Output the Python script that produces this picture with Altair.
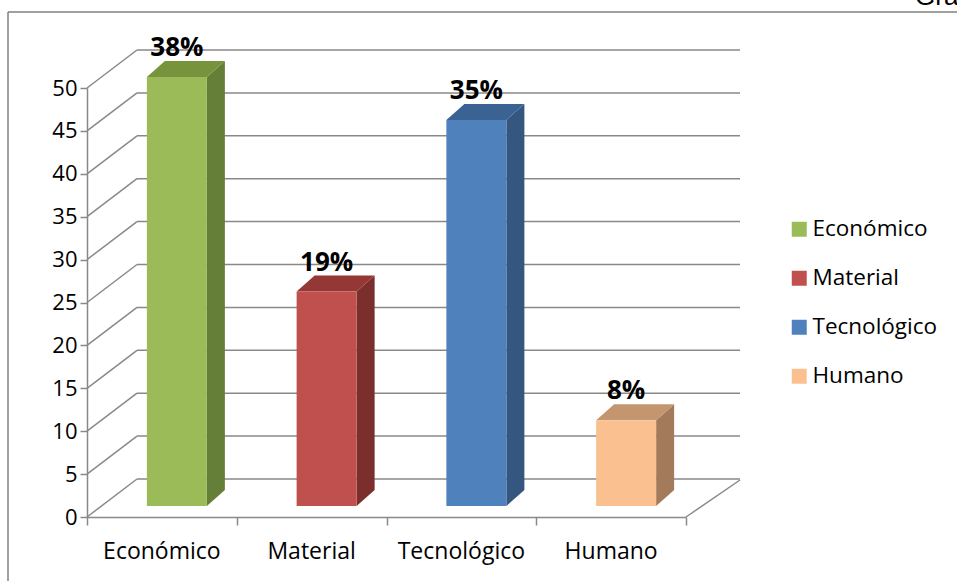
import altair as alt
import pandas as pd

# ---- data ----
categories = ["Económico", "Material", "Tecnológico", "Humano"]
values = [50, 25, 45, 10]
pct_labels = ["38%", "19%", "35%", "8%"]
y_ticks = [0, 5, 10, 15, 20, 25, 30, 35, 40, 45, 50]

# ---- styles ----
front_colors = ["#9BBB59", "#C0504D", "#4F81BD", "#FAC090"]
top_colors = ["#77933C", "#953735", "#3A6394", "#C3966F"]
side_colors = ["#667F38", "#7B2F2D", "#34567F", "#A47B5A"]
GRID = "#898989"
FONT = "Open Sans"

W, H = 599, 429
PX_X = W / 4.0
PX_Y = H / 50.0
HALF = 30 / PX_X          # half bar width (x units)
DX = 18 / PX_X            # depth of bar (x units)
DY = 16 / PX_Y            # depth of bar (y units)
SHIFT_X, SHIFT_Y = 15, -11

XS = alt.Scale(domain=[0, 4], nice=False, zero=False)
YS = alt.Scale(domain=[0, 50], nice=False, zero=True)
XAX = alt.Axis(values=[0, 1, 2, 3, 4], labels=False, tickSize=8, title=None, grid=False,
               domainColor=GRID, tickColor=GRID, domainWidth=1.5, tickWidth=1.5)
YAX = alt.Axis(values=y_ticks, tickSize=7, labelPadding=3, title=None, grid=False,
               labelFont=FONT, labelFontSize=22, labelColor="#000000",
               domainColor=GRID, tickColor=GRID, domainWidth=1.5, tickWidth=1.5)

bars = pd.DataFrame({
    "cat": categories,
    "pos": [i + 0.5 for i in range(len(categories))],
    "value": values,
    "label": pct_labels,
})
bars["xl"] = bars["pos"] - HALF
bars["xr"] = bars["pos"] + HALF
bars["ytop"] = bars["value"] + DY

side_rows, top_rows = [], []
for i, c in enumerate(categories):
    v = values[i]
    xl = i + 0.5 - HALF
    xr = i + 0.5 + HALF
    side_rows += [
        {"cat": c, "x": xr, "hi": v, "lo": 0, "col": side_colors[i]},
        {"cat": c, "x": xr + DX, "hi": v + DY, "lo": DY, "col": side_colors[i]},
    ]
    top_rows += [
        {"cat": c, "x": xl, "hi": v, "lo": v, "col": top_colors[i]},
        {"cat": c, "x": xl + DX, "hi": v + DY, "lo": v, "col": top_colors[i]},
        {"cat": c, "x": xr, "hi": v + DY, "lo": v, "col": top_colors[i]},
        {"cat": c, "x": xr + DX, "hi": v + DY, "lo": v + DY, "col": top_colors[i]},
    ]
side_df = pd.DataFrame(side_rows)
top_df = pd.DataFrame(top_rows)
grid_df = pd.DataFrame({"v": y_ticks})

one = alt.Data(values=[{}])

# frame
frame_left = alt.Chart(one).mark_rule(color="#808080", strokeWidth=1.5).encode(
    x=alt.value(-79), y=alt.value(-76), y2=alt.value(H + 80))
frame_top = alt.Chart(one).mark_rule(color="#808080", strokeWidth=1.5).encode(
    x=alt.value(-79), x2=alt.value(W + 290), y=alt.value(-76))
corner_text = alt.Chart(one).mark_text(align="left", baseline="alphabetic",
                                       font="Liberation Sans", fontSize=26, color="#000000").encode(
    x=alt.value(828), y=alt.value(-83), text=alt.value("Gráfico"))

# back wall gridlines
back_grid = alt.Chart(grid_df).mark_rule(color=GRID, strokeWidth=1.5, xOffset=50, x2Offset=54,
                                         yOffset=-38, y2Offset=-38).encode(
    x=alt.XDatum(0, type="quantitative", scale=XS, axis=XAX),
    x2=alt.X2Datum(4),
    y=alt.Y("v:Q", scale=YS, axis=YAX),
    y2=alt.Y2("v:Q"),
)
# side wall diagonals
side_grid = alt.Chart(grid_df).mark_rule(color=GRID, strokeWidth=1.5, x2Offset=50, y2Offset=-38).encode(
    x=alt.XDatum(0, type="quantitative", scale=XS, axis=XAX),
    x2=alt.X2Datum(0),
    y=alt.Y("v:Q", scale=YS, axis=YAX),
    y2=alt.Y2("v:Q"),
)
# floor right edge
floor_edge = alt.Chart(one).mark_rule(color=GRID, strokeWidth=1.5, x2Offset=54, y2Offset=-37).encode(
    x=alt.XDatum(4, type="quantitative", scale=XS, axis=XAX),
    x2=alt.X2Datum(4),
    y=alt.YDatum(0, type="quantitative", scale=YS, axis=YAX),
    y2=alt.Y2Datum(0),
)

area_props = dict(orient="vertical", interpolate="linear", xOffset=SHIFT_X,
                  yOffset=SHIFT_Y, y2Offset=SHIFT_Y)
side_face = alt.Chart(side_df).mark_area(**area_props).encode(
    x=alt.X("x:Q", scale=XS, axis=XAX),
    y=alt.Y("hi:Q", scale=YS, axis=YAX),
    y2="lo:Q",
    detail="cat:N",
    fill=alt.Fill("col:N", scale=None),
)
top_face = alt.Chart(top_df).mark_area(**area_props).encode(
    x=alt.X("x:Q", scale=XS, axis=XAX),
    y=alt.Y("hi:Q", scale=YS, axis=YAX),
    y2="lo:Q",
    detail="cat:N",
    fill=alt.Fill("col:N", scale=None),
)
front_face = alt.Chart(bars).mark_bar(xOffset=SHIFT_X, x2Offset=SHIFT_X,
                                      yOffset=SHIFT_Y, y2Offset=SHIFT_Y).encode(
    x=alt.X("xl:Q", scale=XS, axis=XAX),
    x2="xr:Q",
    y=alt.Y("value:Q", scale=YS, axis=YAX),
    y2=alt.Y2Datum(0),
    color=alt.Color("cat:N", scale=alt.Scale(domain=categories, range=front_colors),
                    legend=alt.Legend(title=None, orient="none", legendX=701, legendY=130,
                                      symbolType="square", symbolSize=225, symbolStrokeWidth=0,
                                      labelFont=FONT, labelFontSize=22.5, labelColor="#000000",
                                      labelOffset=2, rowPadding=26)),
)
pct_text = alt.Chart(bars).mark_text(font=FONT, fontSize=26, fontWeight="bold", color="#000000",
                                     baseline="alphabetic", xOffset=SHIFT_X, yOffset=SHIFT_Y - 5).encode(
    x=alt.X("pos:Q", scale=XS, axis=XAX),
    y=alt.Y("ytop:Q", scale=YS, axis=YAX),
    text="label:N",
)
cat_text = alt.Chart(bars).mark_text(font=FONT, fontSize=23, color="#000000",
                                     baseline="alphabetic", dy=42).encode(
    x=alt.X("pos:Q", scale=XS, axis=XAX),
    y=alt.YDatum(0, type="quantitative", scale=YS, axis=YAX),
    text="cat:N",
)

chart = alt.layer(
    frame_left, frame_top, corner_text,
    back_grid, side_grid, floor_edge,
    side_face, top_face, front_face, pct_text, cat_text,
).properties(
    width=W, height=H,
    autosize=alt.AutoSizeParams(type="none"),
    padding={"left": 87, "top": 88, "right": 957 - 87 - W, "bottom": 581 - 88 - H},
    background="white",
).configure_view(stroke=None)

chart.save("out.html", embed_options={"renderer": "svg", "actions": False})
